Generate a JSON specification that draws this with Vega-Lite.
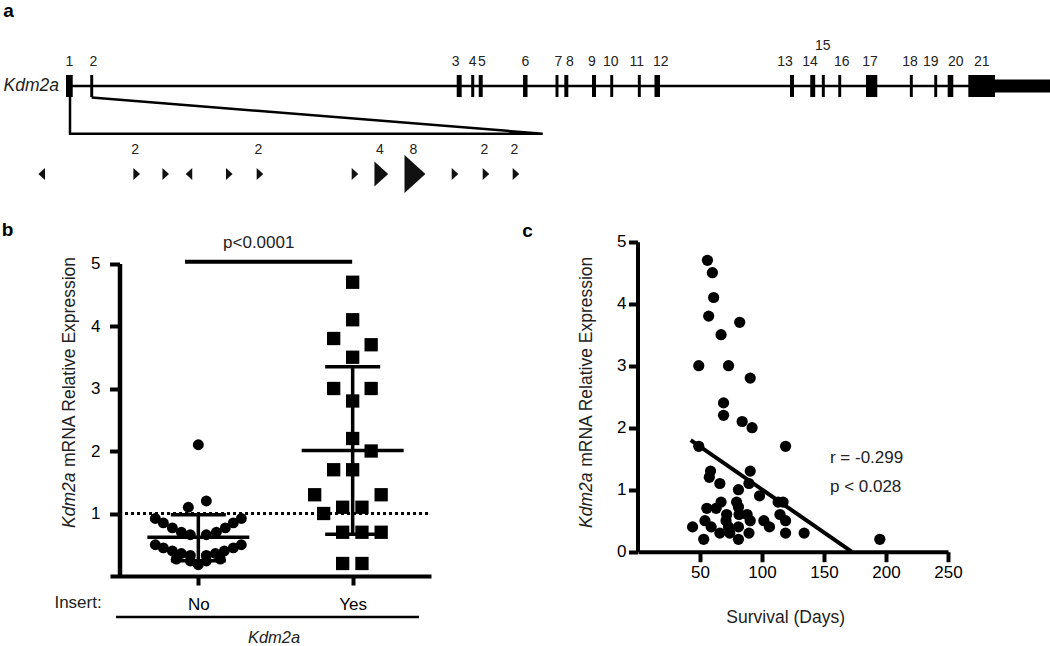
{
  "$schema": "https://vega.github.io/schema/vega-lite/v6.json",
  "width": 1050,
  "height": 646,
  "padding": 0,
  "autosize": {"type": "none"},
  "background": "white",
  "config": {
    "font": "Liberation Sans",
    "view": {"stroke": null},
    "axis": {"domainColor": "black", "tickColor": "black", "labelColor": "black", "grid": false, "labelFontSize": 17, "labelFlush": false, "labelOverlap": false, "labelBound": false, "labelFont": "Liberation Sans"}
  },
  "datasets": {
    "exons": [
      {"exon": 1, "start": 0, "end": 0.84, "lab": 0.41},
      {"exon": 2, "start": 3.03, "end": 3.4, "lab": 3.41},
      {"exon": 3, "start": 48.84, "end": 49.46, "lab": 48.71},
      {"exon": 4, "start": 50.65, "end": 51.03, "lab": 50.84},
      {"exon": 5, "start": 51.59, "end": 52.09, "lab": 52.0},
      {"exon": 6, "start": 57.13, "end": 57.69, "lab": 57.41},
      {"exon": 7, "start": 61.19, "end": 61.56, "lab": 61.54},
      {"exon": 8, "start": 62.29, "end": 62.79, "lab": 63.0},
      {"exon": 9, "start": 65.75, "end": 66.25, "lab": 65.75},
      {"exon": 10, "start": 68.03, "end": 68.4, "lab": 68.09},
      {"exon": 11, "start": 71.48, "end": 71.85, "lab": 71.34},
      {"exon": 12, "start": 73.56, "end": 74.25, "lab": 74.34},
      {"exon": 13, "start": 90.5, "end": 91.0, "lab": 89.88},
      {"exon": 14, "start": 93.03, "end": 93.65, "lab": 93.0},
      {"exon": 15, "start": 94.48, "end": 94.85, "lab": 94.59},
      {"exon": 16, "start": 96.53, "end": 96.9, "lab": 96.96},
      {"exon": 17, "start": 100.0, "end": 101.41, "lab": 100.5},
      {"exon": 18, "start": 105.48, "end": 105.85, "lab": 105.5},
      {"exon": 19, "start": 108.53, "end": 108.9, "lab": 108.09},
      {"exon": 20, "start": 110.21, "end": 110.91, "lab": 111.21},
      {"exon": 21, "start": 112.79, "end": 116.125, "lab": 114.46}
    ],
    "bracket": [
      {"u": 0.5, "v": -1, "o": 1},
      {"u": 0.5, "v": -4.34, "o": 2},
      {"u": 59.59, "v": -4.34, "o": 3},
      {"u": 3.21, "v": -1.05, "o": 4}
    ],
    "insertions": [
      {"pos": -5.99, "dir": "-", "n": 1},
      {"pos": 14.11, "dir": "+", "n": 2},
      {"pos": 20.25, "dir": "+", "n": 1},
      {"pos": 25.17, "dir": "-", "n": 1},
      {"pos": 33.7, "dir": "+", "n": 1},
      {"pos": 40.19, "dir": "+", "n": 2},
      {"pos": 60.29, "dir": "+", "n": 1},
      {"pos": 65.86, "dir": "+", "n": 4},
      {"pos": 72.98, "dir": "+", "n": 8},
      {"pos": 81.45, "dir": "+", "n": 1},
      {"pos": 88.0, "dir": "+", "n": 2},
      {"pos": 94.35, "dir": "+", "n": 2}
    ],
    "bpoints": [
      {"group": "No", "value": 2.1, "dx": 0},
      {"group": "No", "value": 1.2, "dx": 8},
      {"group": "No", "value": 1.1, "dx": -10},
      {"group": "No", "value": 0.92, "dx": -43},
      {"group": "No", "value": 0.92, "dx": 43},
      {"group": "No", "value": 0.85, "dx": -35},
      {"group": "No", "value": 0.85, "dx": 35},
      {"group": "No", "value": 0.77, "dx": -26},
      {"group": "No", "value": 0.77, "dx": 27},
      {"group": "No", "value": 0.7, "dx": -17},
      {"group": "No", "value": 0.7, "dx": 18},
      {"group": "No", "value": 0.66, "dx": -8},
      {"group": "No", "value": 0.66, "dx": 8},
      {"group": "No", "value": 0.5, "dx": -43},
      {"group": "No", "value": 0.5, "dx": 43},
      {"group": "No", "value": 0.45, "dx": -35},
      {"group": "No", "value": 0.45, "dx": 35},
      {"group": "No", "value": 0.4, "dx": -26},
      {"group": "No", "value": 0.4, "dx": 26},
      {"group": "No", "value": 0.36, "dx": -17},
      {"group": "No", "value": 0.36, "dx": 17},
      {"group": "No", "value": 0.33, "dx": -8},
      {"group": "No", "value": 0.33, "dx": 8},
      {"group": "No", "value": 0.27, "dx": -22},
      {"group": "No", "value": 0.27, "dx": 22},
      {"group": "No", "value": 0.24, "dx": -8},
      {"group": "No", "value": 0.24, "dx": 8},
      {"group": "No", "value": 0.18, "dx": 0},
      {"group": "Yes", "value": 4.7, "dx": 0},
      {"group": "Yes", "value": 4.1, "dx": 0},
      {"group": "Yes", "value": 3.8, "dx": -19},
      {"group": "Yes", "value": 3.7, "dx": 18.5},
      {"group": "Yes", "value": 3.5, "dx": 0},
      {"group": "Yes", "value": 3.0, "dx": -19},
      {"group": "Yes", "value": 3.0, "dx": 18.5},
      {"group": "Yes", "value": 2.8, "dx": 0},
      {"group": "Yes", "value": 2.2, "dx": 0},
      {"group": "Yes", "value": 2.0, "dx": 18.5},
      {"group": "Yes", "value": 1.7, "dx": -19},
      {"group": "Yes", "value": 1.7, "dx": 0},
      {"group": "Yes", "value": 1.3, "dx": -38},
      {"group": "Yes", "value": 1.3, "dx": 28.5},
      {"group": "Yes", "value": 1.1, "dx": -10},
      {"group": "Yes", "value": 1.1, "dx": 9.3},
      {"group": "Yes", "value": 1.0, "dx": -29},
      {"group": "Yes", "value": 0.7, "dx": -10},
      {"group": "Yes", "value": 0.7, "dx": 9.3},
      {"group": "Yes", "value": 0.7, "dx": 28.5},
      {"group": "Yes", "value": 0.2, "dx": -10},
      {"group": "Yes", "value": 0.2, "dx": 9.3}
    ],
    "bstats": [
      {"group": "No", "mean": 0.62, "lo": 0.245, "hi": 0.98},
      {"group": "Yes", "mean": 2.01, "lo": 0.67, "hi": 3.35}
    ],
    "cpoints": [
      {"days": 56, "expr": 4.7}, {"days": 60, "expr": 4.5}, {"days": 61, "expr": 4.1},
      {"days": 57, "expr": 3.8}, {"days": 82, "expr": 3.7}, {"days": 67, "expr": 3.5},
      {"days": 49, "expr": 3.0}, {"days": 73, "expr": 3.0}, {"days": 90.5, "expr": 2.8},
      {"days": 69, "expr": 2.4}, {"days": 69, "expr": 2.2}, {"days": 84, "expr": 2.1},
      {"days": 92, "expr": 2.0}, {"days": 119, "expr": 1.7}, {"days": 49, "expr": 1.7},
      {"days": 58.5, "expr": 1.3}, {"days": 57.5, "expr": 1.2}, {"days": 90.5, "expr": 1.3},
      {"days": 66, "expr": 1.1}, {"days": 89.5, "expr": 1.1}, {"days": 81, "expr": 1.0},
      {"days": 98, "expr": 0.9}, {"days": 55.5, "expr": 0.7}, {"days": 63, "expr": 0.7},
      {"days": 67, "expr": 0.8}, {"days": 79.5, "expr": 0.8}, {"days": 81, "expr": 0.72},
      {"days": 113, "expr": 0.8}, {"days": 117, "expr": 0.8}, {"days": 71.5, "expr": 0.6},
      {"days": 81.5, "expr": 0.6}, {"days": 88, "expr": 0.6}, {"days": 114.5, "expr": 0.6},
      {"days": 54, "expr": 0.5}, {"days": 71, "expr": 0.5}, {"days": 90.5, "expr": 0.5},
      {"days": 101.5, "expr": 0.5}, {"days": 119, "expr": 0.5}, {"days": 44, "expr": 0.4},
      {"days": 59, "expr": 0.4}, {"days": 73, "expr": 0.4}, {"days": 81, "expr": 0.4},
      {"days": 106, "expr": 0.4}, {"days": 66, "expr": 0.3}, {"days": 74, "expr": 0.3},
      {"days": 89.5, "expr": 0.3}, {"days": 119, "expr": 0.3}, {"days": 134, "expr": 0.3},
      {"days": 53, "expr": 0.2}, {"days": 81, "expr": 0.2}, {"days": 195, "expr": 0.2}
    ],
    "cfit": [
      {"days": 42.5, "fit": 1.8},
      {"days": 172.3, "fit": 0}
    ]
  },
  "layer": [
    {
      "layer": [
        {
          "data": {"values": [{"from": 0, "to": 116.125}]},
          "mark": {"type": "rule", "strokeWidth": 2.5, "color": "black"},
          "encoding": {
            "x": {"field": "from", "type": "quantitative", "scale": {"domain": [-1, 123], "range": [58, 1050], "nice": false, "zero": false}, "axis": null},
            "x2": {"field": "to"},
            "y": {"datum": 0, "type": "quantitative", "scale": {"domain": [-5, 4], "range": [141, 42], "nice": false, "zero": false}, "axis": null}
          }
        },
        {
          "data": {"name": "exons"},
          "mark": {"type": "rect", "color": "black"},
          "encoding": {
            "x": {"field": "start", "type": "quantitative", "scale": {"domain": [-1, 123], "range": [58, 1050], "nice": false, "zero": false}, "axis": null},
            "x2": {"field": "end"},
            "y": {"datum": -1, "type": "quantitative", "scale": {"domain": [-5, 4], "range": [141, 42], "nice": false, "zero": false}, "axis": null},
            "y2": {"datum": 1}
          }
        },
        {
          "data": {"values": [{"start": 116.125, "end": 123}]},
          "mark": {"type": "rect", "color": "black"},
          "encoding": {
            "x": {"field": "start", "type": "quantitative", "scale": {"domain": [-1, 123], "range": [58, 1050], "nice": false, "zero": false}, "axis": null},
            "x2": {"field": "end"},
            "y": {"datum": -0.58, "type": "quantitative", "scale": {"domain": [-5, 4], "range": [141, 42], "nice": false, "zero": false}, "axis": null},
            "y2": {"datum": 0.58}
          }
        },
        {
          "data": {"name": "exons"},
          "transform": [{"filter": "datum.exon != 15"}],
          "mark": {"type": "text", "fontSize": 14, "color": "#222", "baseline": "middle", "align": "center"},
          "encoding": {
            "x": {"field": "lab", "type": "quantitative", "scale": {"domain": [-1, 123], "range": [58, 1050], "nice": false, "zero": false}, "axis": null},
            "y": {"datum": 2.15, "type": "quantitative", "scale": {"domain": [-5, 4], "range": [141, 42], "nice": false, "zero": false}, "axis": null},
            "text": {"field": "exon"}
          }
        },
        {
          "data": {"name": "exons"},
          "transform": [{"filter": "datum.exon == 15"}],
          "mark": {"type": "text", "fontSize": 14, "color": "#222", "baseline": "middle", "align": "center"},
          "encoding": {
            "x": {"field": "lab", "type": "quantitative", "scale": {"domain": [-1, 123], "range": [58, 1050], "nice": false, "zero": false}, "axis": null},
            "y": {"datum": 3.66, "type": "quantitative", "scale": {"domain": [-5, 4], "range": [141, 42], "nice": false, "zero": false}, "axis": null},
            "text": {"field": "exon"}
          }
        },
        {
          "data": {"name": "bracket"},
          "mark": {"type": "line", "strokeWidth": 2.5, "color": "black", "strokeJoin": "miter"},
          "encoding": {
            "x": {"field": "u", "type": "quantitative", "scale": {"domain": [-1, 123], "range": [58, 1050], "nice": false, "zero": false}, "axis": null},
            "y": {"field": "v", "type": "quantitative", "scale": {"domain": [-5, 4], "range": [141, 42], "nice": false, "zero": false}, "axis": null},
            "order": {"field": "o"}
          }
        },
        {
          "data": {"values": [{"label": "Kdm2a"}]},
          "mark": {"type": "text", "fontSize": 17.5, "fontStyle": "italic", "color": "#222", "align": "right", "baseline": "middle", "dx": -7},
          "encoding": {
            "x": {"datum": 0, "type": "quantitative", "scale": {"domain": [-1, 123], "range": [58, 1050], "nice": false, "zero": false}, "axis": null},
            "y": {"datum": 0, "type": "quantitative", "scale": {"domain": [-5, 4], "range": [141, 42], "nice": false, "zero": false}, "axis": null},
            "text": {"field": "label"}
          }
        },
        {
          "data": {"values": [{"t": "a", "u": -7.19, "v": 7.6}, {"t": "b", "u": -7.31, "v": -12.27}, {"t": "c", "u": 57.69, "v": -12.36}]},
          "mark": {"type": "text", "fontSize": 19, "fontWeight": "bold", "color": "black", "align": "center", "baseline": "top"},
          "encoding": {
            "x": {"field": "u", "type": "quantitative", "scale": {"domain": [-1, 123], "range": [58, 1050], "nice": false, "zero": false}, "axis": null},
            "y": {"field": "v", "type": "quantitative", "scale": {"domain": [-5, 4], "range": [141, 42], "nice": false, "zero": false}, "axis": null},
            "text": {"field": "t"}
          }
        }
      ]
    },
    {
      "layer": [
        {
          "data": {"name": "insertions"},
          "mark": {"type": "point", "filled": true, "opacity": 1, "color": "#111", "strokeWidth": 0},
          "encoding": {
            "x": {"field": "pos", "type": "quantitative", "scale": {"domain": [0, 100], "range": [70, 542.7], "nice": false, "zero": false}, "axis": null},
            "y": {"datum": 0, "type": "quantitative", "scale": {"domain": [0, 1], "range": [174, 150], "nice": false, "zero": false}, "axis": null},
            "shape": {"field": "dir", "type": "nominal", "scale": {"domain": ["+", "-"], "range": ["M-0.55,-1L0.55,0L-0.55,1Z", "M0.55,-1L-0.55,0L0.55,1Z"]}, "legend": null},
            "size": {"field": "n", "type": "quantitative", "scale": {"type": "threshold", "domain": [3, 6], "range": [144, 625, 1444]}, "legend": null}
          }
        },
        {
          "data": {"name": "insertions"},
          "transform": [{"filter": "datum.n > 1"}],
          "mark": {"type": "text", "fontSize": 14, "color": "#222", "dx": -1.5, "baseline": "middle", "align": "center"},
          "encoding": {
            "x": {"field": "pos", "type": "quantitative", "scale": {"domain": [0, 100], "range": [70, 542.7], "nice": false, "zero": false}, "axis": null},
            "y": {"datum": 1, "type": "quantitative", "scale": {"domain": [0, 1], "range": [174, 150], "nice": false, "zero": false}, "axis": null},
            "text": {"field": "n"}
          }
        }
      ]
    },
    {
      "layer": [
        {
          "data": {"name": "bpoints"},
          "mark": {"type": "point", "filled": true, "opacity": 1, "color": "black", "strokeWidth": 0},
          "encoding": {
            "x": {"field": "group", "type": "nominal", "scale": {"type": "point", "domain": ["No", "Yes"], "range": [110, 431], "padding": 0.54, "align": 0.53},
                  "axis": {"orient": "bottom", "offset": -70, "title": null, "labelAngle": 0, "domainWidth": 4, "tickWidth": 4, "tickSize": 9, "labelPadding": 11, "labelFontSize": 17}},
            "xOffset": {"field": "dx", "type": "quantitative", "scale": {"domain": [-50, 50], "range": [-50, 50]}},
            "y": {"field": "value", "type": "quantitative", "scale": {"domain": [0, 5], "range": [576, 263.5], "nice": false, "zero": false},
                  "axis": {"orient": "left", "offset": -119.5, "title": null, "values": [1, 2, 3, 4, 5], "format": "d", "domainWidth": 4.5, "tickWidth": 4, "tickSize": 10, "labelPadding": 9.5, "labelFontSize": 17}},
            "shape": {"field": "group", "type": "nominal", "scale": {"domain": ["No", "Yes"], "range": ["circle", "square"]}, "legend": null},
            "size": {"field": "group", "type": "ordinal", "scale": {"domain": ["No", "Yes"], "range": [120, 177]}, "legend": null}
          }
        },
        {
          "data": {"values": [{}]},
          "mark": {"type": "rule", "strokeWidth": 3, "strokeDash": [3, 3], "color": "black", "xOffset": -79.3, "x2Offset": 78.3},
          "encoding": {
            "x": {"datum": "No", "type": "nominal", "title": null, "scale": {"type": "point", "domain": ["No", "Yes"], "range": [110, 431], "padding": 0.54, "align": 0.53}},
            "x2": {"datum": "Yes"},
            "y": {"datum": 1, "type": "quantitative", "title": null, "scale": {"domain": [0, 5], "range": [576, 263.5], "nice": false, "zero": false}}
          }
        },
        {
          "data": {"name": "bstats"},
          "mark": {"type": "rule", "strokeWidth": 3.5, "color": "black"},
          "encoding": {
            "x": {"field": "group", "type": "nominal", "title": null, "scale": {"type": "point", "domain": ["No", "Yes"], "range": [110, 431], "padding": 0.54, "align": 0.53}},
            "y": {"field": "lo", "type": "quantitative", "title": null, "scale": {"domain": [0, 5], "range": [576, 263.5], "nice": false, "zero": false}},
            "y2": {"field": "hi"}
          }
        },
        {
          "data": {"name": "bstats"},
          "mark": {"type": "rule", "strokeWidth": 3.5, "color": "black", "xOffset": -27.5, "x2Offset": 27.5},
          "encoding": {
            "x": {"field": "group", "type": "nominal", "title": null, "scale": {"type": "point", "domain": ["No", "Yes"], "range": [110, 431], "padding": 0.54, "align": 0.53}},
            "x2": {"field": "group"},
            "y": {"field": "hi", "type": "quantitative", "title": null, "scale": {"domain": [0, 5], "range": [576, 263.5], "nice": false, "zero": false}}
          }
        },
        {
          "data": {"name": "bstats"},
          "mark": {"type": "rule", "strokeWidth": 3.5, "color": "black", "xOffset": -27.5, "x2Offset": 27.5},
          "encoding": {
            "x": {"field": "group", "type": "nominal", "title": null, "scale": {"type": "point", "domain": ["No", "Yes"], "range": [110, 431], "padding": 0.54, "align": 0.53}},
            "x2": {"field": "group"},
            "y": {"field": "lo", "type": "quantitative", "title": null, "scale": {"domain": [0, 5], "range": [576, 263.5], "nice": false, "zero": false}}
          }
        },
        {
          "data": {"name": "bstats"},
          "mark": {"type": "rule", "strokeWidth": 3.5, "color": "black", "xOffset": -51, "x2Offset": 51},
          "encoding": {
            "x": {"field": "group", "type": "nominal", "title": null, "scale": {"type": "point", "domain": ["No", "Yes"], "range": [110, 431], "padding": 0.54, "align": 0.53}},
            "x2": {"field": "group"},
            "y": {"field": "mean", "type": "quantitative", "title": null, "scale": {"domain": [0, 5], "range": [576, 263.5], "nice": false, "zero": false}}
          }
        },
        {
          "data": {"values": [{}]},
          "mark": {"type": "rule", "strokeWidth": 4, "color": "black", "xOffset": -13.3, "x2Offset": -0.5},
          "encoding": {
            "x": {"datum": "No", "type": "nominal", "title": null, "scale": {"type": "point", "domain": ["No", "Yes"], "range": [110, 431], "padding": 0.54, "align": 0.53}},
            "x2": {"datum": "Yes"},
            "y": {"datum": 5.029, "type": "quantitative", "title": null, "scale": {"domain": [0, 5], "range": [576, 263.5], "nice": false, "zero": false}}
          }
        },
        {
          "data": {"values": [{}]},
          "mark": {"type": "rule", "strokeWidth": 2.5, "color": "black", "xOffset": -82.3, "x2Offset": 66.3},
          "encoding": {
            "x": {"datum": "No", "type": "nominal", "title": null, "scale": {"type": "point", "domain": ["No", "Yes"], "range": [110, 431], "padding": 0.54, "align": 0.53}},
            "x2": {"datum": "Yes"},
            "y": {"datum": -0.656, "type": "quantitative", "title": null, "scale": {"domain": [0, 5], "range": [576, 263.5], "nice": false, "zero": false}}
          }
        },
        {
          "data": {"values": [{"t": "p<0.0001"}]},
          "mark": {"type": "text", "fontSize": 17, "color": "#222", "align": "center", "baseline": "middle", "xOffset": 60.4},
          "encoding": {
            "x": {"datum": "No", "type": "nominal", "title": null, "scale": {"type": "point", "domain": ["No", "Yes"], "range": [110, 431], "padding": 0.54, "align": 0.53}},
            "y": {"datum": 5.328, "type": "quantitative", "title": null, "scale": {"domain": [0, 5], "range": [576, 263.5], "nice": false, "zero": false}},
            "text": {"field": "t"}
          }
        },
        {
          "data": {"values": [{"t": "Insert:"}]},
          "mark": {"type": "text", "fontSize": 17, "color": "#222", "align": "center", "baseline": "middle", "xOffset": -120.3},
          "encoding": {
            "x": {"datum": "No", "type": "nominal", "title": null, "scale": {"type": "point", "domain": ["No", "Yes"], "range": [110, 431], "padding": 0.54, "align": 0.53}},
            "y": {"datum": -0.432, "type": "quantitative", "title": null, "scale": {"domain": [0, 5], "range": [576, 263.5], "nice": false, "zero": false}},
            "text": {"field": "t"}
          }
        },
        {
          "data": {"values": [{"t": "Kdm2a"}]},
          "mark": {"type": "text", "fontSize": 16.5, "fontStyle": "italic", "color": "#222", "align": "center", "baseline": "bottom", "xOffset": 75.7},
          "encoding": {
            "x": {"datum": "No", "type": "nominal", "title": null, "scale": {"type": "point", "domain": ["No", "Yes"], "range": [110, 431], "padding": 0.54, "align": 0.53}},
            "y": {"datum": -1.115, "type": "quantitative", "title": null, "scale": {"domain": [0, 5], "range": [576, 263.5], "nice": false, "zero": false}},
            "text": {"field": "t"}
          }
        },
        {
          "data": {"values": [{"t": "Kdm2a"}]},
          "mark": {"type": "text", "fontSize": 17.5, "fontStyle": "italic", "color": "#222", "align": "left", "baseline": "middle", "angle": 270, "xOffset": -128.3},
          "encoding": {
            "x": {"datum": "No", "type": "nominal", "title": null, "scale": {"type": "point", "domain": ["No", "Yes"], "range": [110, 431], "padding": 0.54, "align": 0.53}},
            "y": {"datum": 0.768, "type": "quantitative", "title": null, "scale": {"domain": [0, 5], "range": [576, 263.5], "nice": false, "zero": false}},
            "text": {"field": "t"}
          }
        },
        {
          "data": {"values": [{"t": "mRNA Relative Expression"}]},
          "mark": {"type": "text", "fontSize": 17.5, "color": "#222", "align": "right", "baseline": "middle", "angle": 270, "xOffset": -128.3},
          "encoding": {
            "x": {"datum": "No", "type": "nominal", "title": null, "scale": {"type": "point", "domain": ["No", "Yes"], "range": [110, 431], "padding": 0.54, "align": 0.53}},
            "y": {"datum": 5.104, "type": "quantitative", "title": null, "scale": {"domain": [0, 5], "range": [576, 263.5], "nice": false, "zero": false}},
            "text": {"field": "t"}
          }
        }
      ]
    },
    {
      "layer": [
        {
          "data": {"name": "cpoints"},
          "mark": {"type": "circle", "size": 126, "opacity": 1, "color": "black"},
          "encoding": {
            "x": {"field": "days", "type": "quantitative", "scale": {"domain": [0, 250], "range": [638, 948], "nice": false, "zero": false},
                  "axis": {"orient": "bottom", "offset": -94.3, "title": null, "values": [50, 100, 150, 200, 250], "format": "d", "domainWidth": 4, "tickWidth": 4, "tickSize": 10, "labelPadding": 3, "labelFontSize": 17}},
            "y": {"field": "expr", "type": "quantitative", "scale": {"domain": [0, 5], "range": [551.7, 241.7], "nice": false, "zero": false},
                  "axis": {"orient": "left", "offset": -637.5, "title": null, "values": [0, 1, 2, 3, 4, 5], "format": "d", "domainWidth": 4, "tickWidth": 4, "tickSize": 9, "labelPadding": 2.5, "labelFontSize": 17}}
          }
        },
        {
          "data": {"name": "cfit"},
          "mark": {"type": "line", "strokeWidth": 4, "color": "black"},
          "encoding": {
            "x": {"field": "days", "type": "quantitative", "title": null, "scale": {"domain": [0, 250], "range": [638, 948], "nice": false, "zero": false}},
            "y": {"field": "fit", "type": "quantitative", "title": null, "scale": {"domain": [0, 5], "range": [551.7, 241.7], "nice": false, "zero": false}}
          }
        },
        {
          "data": {"values": [
            {"t": "r = -0.299", "d": 154.8, "v": 1.51},
            {"t": "p < 0.028", "d": 154.8, "v": 1.05}
          ]},
          "mark": {"type": "text", "fontSize": 17, "color": "#222", "align": "left", "baseline": "middle"},
          "encoding": {
            "x": {"field": "d", "type": "quantitative", "title": null, "scale": {"domain": [0, 250], "range": [638, 948], "nice": false, "zero": false}},
            "y": {"field": "v", "type": "quantitative", "title": null, "scale": {"domain": [0, 5], "range": [551.7, 241.7], "nice": false, "zero": false}},
            "text": {"field": "t"}
          }
        },
        {
          "data": {"values": [{"t": "Survival (Days)"}]},
          "mark": {"type": "text", "fontSize": 17.5, "color": "#222", "align": "center", "baseline": "middle"},
          "encoding": {
            "x": {"datum": 119.1, "type": "quantitative", "title": null, "scale": {"domain": [0, 250], "range": [638, 948], "nice": false, "zero": false}},
            "y": {"datum": -1.07, "type": "quantitative", "title": null, "scale": {"domain": [0, 5], "range": [551.7, 241.7], "nice": false, "zero": false}},
            "text": {"field": "t"}
          }
        },
        {
          "data": {"values": [{"t": "Kdm2a"}]},
          "mark": {"type": "text", "fontSize": 17.5, "fontStyle": "italic", "color": "#222", "align": "left", "baseline": "middle", "angle": 270},
          "encoding": {
            "x": {"datum": -41.4, "type": "quantitative", "title": null, "scale": {"domain": [0, 250], "range": [638, 948], "nice": false, "zero": false}},
            "y": {"datum": 0.382, "type": "quantitative", "title": null, "scale": {"domain": [0, 5], "range": [551.7, 241.7], "nice": false, "zero": false}},
            "text": {"field": "t"}
          }
        },
        {
          "data": {"values": [{"t": "mRNA Relative Expression"}]},
          "mark": {"type": "text", "fontSize": 17.5, "color": "#222", "align": "right", "baseline": "middle", "angle": 270},
          "encoding": {
            "x": {"datum": -41.4, "type": "quantitative", "title": null, "scale": {"domain": [0, 250], "range": [638, 948], "nice": false, "zero": false}},
            "y": {"datum": 4.758, "type": "quantitative", "title": null, "scale": {"domain": [0, 5], "range": [551.7, 241.7], "nice": false, "zero": false}},
            "text": {"field": "t"}
          }
        }
      ]
    }
  ],
  "resolve": {
    "scale": {"x": "independent", "y": "independent", "shape": "independent", "size": "independent"},
    "axis": {"x": "independent", "y": "independent"}
  }
}
